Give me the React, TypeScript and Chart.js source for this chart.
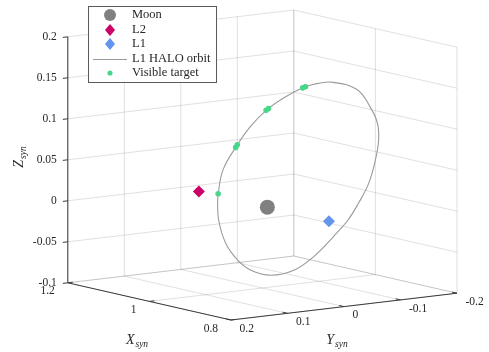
import React, { useEffect, useRef } from 'react';
import { Chart, registerables } from 'chart.js';

Chart.register(...registerables);

const W = 489;
const H = 352;

// ---- Axis limits and ticks ----
const xLim = [0.8, 1.2];
const yLim = [-0.2, 0.2];
const zLim = [-0.1, 0.2];
const xTickValues = [0.8, 1.0, 1.2];
const xTickLabels = ['0.8', '1', '1.2'];
const yTickValues = [0.2, 0.1, 0, -0.1, -0.2];
const yTickLabels = ['0.2', '0.1', '0', '-0.1', '-0.2'];
const zTickValues = [-0.1, -0.05, 0, 0.05, 0.1, 0.15, 0.2];
const zTickLabels = ['-0.1', '-0.05', '0', '0.05', '0.1', '0.15', '0.2'];

// ---- Bodies (X, Y, Z) in synodic frame ----
const moonXYZ = [0.98785, 0, 0];
const l2XYZ = [1.15568, 0, 0];
const l1XYZ = [0.83692, 0, 0];

// ---- L1 HALO orbit ----
const haloX = [0.916, 0.909, 0.890, 0.871, 0.857, 0.844, 0.836, 0.830, 0.829, 0.829, 0.838, 0.853, 0.866, 0.880, 0.896, 0.914, 0.929, 0.942, 0.955, 0.969, 0.977, 0.979, 0.973, 0.964, 0.949, 0.930];
const haloY = [0.140, 0.144, 0.149, 0.139, 0.125, 0.104, 0.078, 0.049, 0.025, -0.002, -0.051, -0.085, -0.107, -0.119, -0.125, -0.126, -0.119, -0.109, -0.093, -0.068, -0.039, 0.000, 0.040, 0.070, 0.102, 0.128];
const haloZ = [0.025, 0.037, 0.069, 0.099, 0.123, 0.144, 0.158, 0.168, 0.171, 0.170, 0.156, 0.130, 0.107, 0.084, 0.058, 0.027, 0.002, -0.020, -0.040, -0.064, -0.079, -0.082, -0.072, -0.056, -0.031, 0.001];

// ---- Visible targets ----
const targetX = [0.909, 0.872, 0.870, 0.8447, 0.8433, 0.8303, 0.8297];
const targetY = [0.144, 0.1397, 0.1383, 0.1056, 0.1024, 0.0512, 0.0468];
const targetZ = [0.037, 0.0974, 0.1006, 0.1429, 0.1451, 0.1675, 0.1685];

// ---- View (orthographic projection of the 3D box) ----
const VIEW = { ox: 231, oy: 320, exx: -408, exy: -93, eyx: -565, eyy: 67, ezy: -820 };

function project(X: number, Y: number, Z: number) {
  const u = X - xLim[0];
  const v = Y - yLim[1];
  const w = Z - zLim[0];
  return {
    x: VIEW.ox + u * VIEW.exx + v * VIEW.eyx,
    y: VIEW.oy + u * VIEW.exy + v * VIEW.eyy + w * VIEW.ezy,
  };
}

const FONT = '"Liberation Serif", "DejaVu Serif", serif';
const TEXT = '#262626';
const GRID = 'rgba(38,38,38,0.14)';
const AXIS = '#3a3a3a';
const MOON_C = '#808080';
const L2_C = '#CC0066';
const L1_C = '#6495ED';
const HALO_C = '#9a9a9a';
const TGT_C = '#4AD68A';

function seg(a: number[], b: number[], color: string, width: number, order: number) {
  return {
    type: 'scatter' as const,
    data: [project(a[0], a[1], a[2]), project(b[0], b[1], b[2])],
    showLine: true,
    borderColor: color,
    borderWidth: width,
    pointRadius: 0,
    pointHoverRadius: 0,
    order,
  };
}

function drawSubLabel(ctx: CanvasRenderingContext2D, main: string, sub: string, cx: number, cy: number, rot: number) {
  ctx.save();
  ctx.translate(cx, cy);
  ctx.rotate(rot);
  ctx.fillStyle = TEXT;
  ctx.textBaseline = 'middle';
  ctx.textAlign = 'left';
  const mf = 'italic 14px ' + FONT;
  const sf = 'italic 9.5px ' + FONT;
  ctx.font = mf;
  const w1 = ctx.measureText(main).width;
  ctx.font = sf;
  const w2 = ctx.measureText(sub).width;
  const total = w1 + 1 + w2;
  const sx = -total / 2;
  ctx.font = mf;
  ctx.fillText(main, sx, 0);
  ctx.font = sf;
  ctx.fillText(sub, sx + w1 + 1, 4);
  ctx.restore();
}

const overlayPlugin = {
  id: 'overlay3d',
  afterDatasetsDraw(chart: any) {
    const ctx: CanvasRenderingContext2D = chart.ctx;
    const xs = chart.scales.x;
    const ys = chart.scales.y;
    const P = (X: number, Y: number, Z: number) => {
      const p = project(X, Y, Z);
      return [xs.getPixelForValue(p.x), ys.getPixelForValue(p.y)];
    };
    ctx.save();
    ctx.strokeStyle = AXIS;
    ctx.lineWidth = 1;
    const L = 5;
    const dirY = (() => { const a = P(xLim[0], yLim[0], zLim[0]); const b = P(xLim[0], yLim[1], zLim[0]); const d = Math.hypot(a[0] - b[0], a[1] - b[1]); return [(a[0] - b[0]) / d, (a[1] - b[1]) / d]; })();
    const dirX = (() => { const a = P(xLim[1], yLim[1], zLim[0]); const b = P(xLim[0], yLim[1], zLim[0]); const d = Math.hypot(a[0] - b[0], a[1] - b[1]); return [(a[0] - b[0]) / d, (a[1] - b[1]) / d]; })();
    xTickValues.forEach((x) => {
      const p = P(x, yLim[1], zLim[0]);
      ctx.beginPath(); ctx.moveTo(p[0], p[1]); ctx.lineTo(p[0] + dirY[0] * L, p[1] + dirY[1] * L); ctx.stroke();
    });
    yTickValues.forEach((y) => {
      const p = P(xLim[0], y, zLim[0]);
      ctx.beginPath(); ctx.moveTo(p[0], p[1]); ctx.lineTo(p[0] + dirX[0] * L, p[1] + dirX[1] * L); ctx.stroke();
    });
    zTickValues.forEach((z) => {
      const p = P(xLim[1], yLim[1], z);
      ctx.beginPath(); ctx.moveTo(p[0], p[1]); ctx.lineTo(p[0] - dirY[0] * L, p[1] - dirY[1] * L); ctx.stroke();
    });
    ctx.fillStyle = TEXT;
    ctx.font = '11.5px ' + FONT;
    ctx.textBaseline = 'middle';
    ctx.textAlign = 'right';
    zTickValues.forEach((z, i) => {
      const p = P(xLim[1], yLim[1], z);
      ctx.fillText(zTickLabels[i], p[0] - 11, p[1]);
    });
    xTickValues.forEach((x, i) => {
      const p = P(x, yLim[1], zLim[0]);
      ctx.fillText(xTickLabels[i], p[0] - 13, p[1] + 8.5);
    });
    ctx.textAlign = 'left';
    yTickValues.forEach((y, i) => {
      const p = P(xLim[0], y, zLim[0]);
      ctx.fillText(yTickLabels[i], p[0] + 8.5, p[1] + 8.8);
    });
    ctx.restore();
    drawSubLabel(ctx, 'X', 'syn', 137, 340, 0);
    drawSubLabel(ctx, 'Y', 'syn', 337, 340, 0);
    drawSubLabel(ctx, 'Z', 'syn', 19, 157, -Math.PI / 2);
  },
  afterDraw(chart: any) {
    const ctx: CanvasRenderingContext2D = chart.ctx;
    ctx.save();
    const bx = 88.5, by = 6.5, bw = 128, bh = 76;
    ctx.fillStyle = '#ffffff';
    ctx.fillRect(bx, by, bw, bh);
    ctx.strokeStyle = '#5a5a5a';
    ctx.lineWidth = 1;
    ctx.strokeRect(bx, by, bw, bh);
    const mx = 110;
    const tx = 132;
    const rows = [15, 30, 44, 59, 73];
    ctx.fillStyle = MOON_C;
    ctx.beginPath(); ctx.arc(mx, rows[0], 6, 0, Math.PI * 2); ctx.fill();
    const diamond = (y: number, c: string) => {
      ctx.fillStyle = c;
      ctx.beginPath();
      ctx.moveTo(mx, y - 6); ctx.lineTo(mx + 5, y); ctx.lineTo(mx, y + 6); ctx.lineTo(mx - 5, y); ctx.closePath();
      ctx.fill();
    };
    diamond(rows[1], L2_C);
    diamond(rows[2], L1_C);
    ctx.strokeStyle = HALO_C;
    ctx.lineWidth = 1;
    ctx.beginPath(); ctx.moveTo(93, rows[3] + 0.5); ctx.lineTo(127, rows[3] + 0.5); ctx.stroke();
    ctx.fillStyle = TGT_C;
    ctx.beginPath(); ctx.arc(mx, rows[4], 2.6, 0, Math.PI * 2); ctx.fill();
    ctx.fillStyle = TEXT;
    ctx.font = '12.5px ' + FONT;
    ctx.textBaseline = 'middle';
    ctx.textAlign = 'left';
    const names = ['Moon', 'L2', 'L1', 'L1 HALO orbit', 'Visible target'];
    names.forEach((n, i) => ctx.fillText(n, tx, rows[i]));
    ctx.restore();
  },
};

export default function App() {
  const ref = useRef<HTMLCanvasElement | null>(null);
  useEffect(() => {
    if (!ref.current) return;
    const datasets: any[] = [];
    zTickValues.forEach((z) => {
      datasets.push(seg([xLim[1], yLim[1], z], [xLim[1], yLim[0], z], GRID, 1, 20));
      datasets.push(seg([xLim[1], yLim[0], z], [xLim[0], yLim[0], z], GRID, 1, 20));
    });
    yTickValues.forEach((y) => {
      datasets.push(seg([xLim[1], y, zLim[0]], [xLim[1], y, zLim[1]], GRID, 1, 20));
      datasets.push(seg([xLim[0], y, zLim[0]], [xLim[1], y, zLim[0]], GRID, 1, 20));
    });
    xTickValues.forEach((x) => {
      datasets.push(seg([x, yLim[0], zLim[0]], [x, yLim[0], zLim[1]], GRID, 1, 20));
      datasets.push(seg([x, yLim[1], zLim[0]], [x, yLim[0], zLim[0]], GRID, 1, 20));
    });
    datasets.push(seg([xLim[1], yLim[1], zLim[0]], [xLim[1], yLim[1], zLim[1]], AXIS, 1, 15));
    datasets.push(seg([xLim[0], yLim[1], zLim[0]], [xLim[1], yLim[1], zLim[0]], AXIS, 1, 15));
    datasets.push(seg([xLim[0], yLim[1], zLim[0]], [xLim[0], yLim[0], zLim[0]], AXIS, 1, 15));
    const halo = haloX.map((x, i) => project(x, haloY[i], haloZ[i]));
    halo.push(halo[0]);
    datasets.push({
      type: 'scatter', label: 'L1 HALO orbit', data: halo, showLine: true,
      borderColor: HALO_C, borderWidth: 1.1, pointRadius: 0, tension: 0.4, order: 10,
    });
    datasets.push({
      type: 'scatter', label: 'Moon', data: [project(moonXYZ[0], moonXYZ[1], moonXYZ[2])],
      pointStyle: 'circle', pointRadius: 7.5, backgroundColor: MOON_C, borderColor: MOON_C, borderWidth: 0, order: 3,
    });
    datasets.push({
      type: 'scatter', label: 'L2', data: [project(l2XYZ[0], l2XYZ[1], l2XYZ[2])],
      pointStyle: 'rectRot', pointRadius: 6, backgroundColor: L2_C, borderColor: L2_C, borderWidth: 0, order: 2,
    });
    datasets.push({
      type: 'scatter', label: 'L1', data: [project(l1XYZ[0], l1XYZ[1], l1XYZ[2])],
      pointStyle: 'rectRot', pointRadius: 6, backgroundColor: L1_C, borderColor: L1_C, borderWidth: 0, order: 2,
    });
    datasets.push({
      type: 'scatter', label: 'Visible target', data: targetX.map((x, i) => project(x, targetY[i], targetZ[i])),
      pointStyle: 'circle', pointRadius: 2.8, backgroundColor: TGT_C, borderColor: TGT_C, borderWidth: 0, order: 1,
    });

    const chart: any = new Chart(ref.current, {
      type: 'scatter',
      data: { datasets },
      options: {
        animation: false,
        responsive: false,
        devicePixelRatio: 1,
        events: [],
        layout: { padding: 0 },
        scales: {
          x: { type: 'linear', min: 0, max: W, display: false },
          y: { type: 'linear', min: 0, max: H, reverse: true, display: false },
        },
        plugins: { legend: { display: false }, tooltip: { enabled: false } },
      },
      plugins: [overlayPlugin],
    } as any);
    // Chart.js pads the chart area for point overflow; align the scales to canvas pixels.
    const ca = chart.chartArea;
    chart.options.scales.x.min = ca.left;
    chart.options.scales.x.max = ca.right;
    chart.options.scales.y.min = ca.top;
    chart.options.scales.y.max = ca.bottom;
    chart.update();
    return () => chart.destroy();
  }, []);

  return (
    <div style={{ position: 'absolute', left: 0, top: 0, width: W, height: H, background: '#fff' }}>
      <canvas ref={ref} width={W} height={H} style={{ width: W, height: H, display: 'block' }} />
    </div>
  );
}
